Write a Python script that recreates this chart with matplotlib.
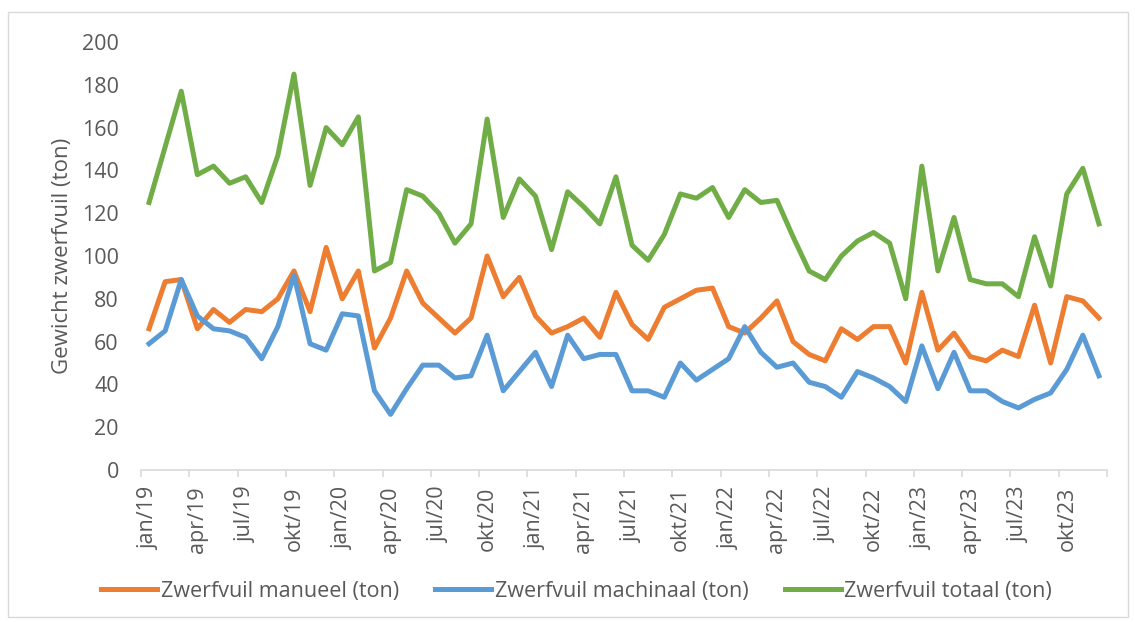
import matplotlib
matplotlib.use("Agg")
import matplotlib.pyplot as plt
from matplotlib.patches import Rectangle
import numpy as np

# months jan/19 .. dec/23
months = ["jan", "feb", "mrt", "apr", "mei", "jun", "jul", "aug", "sep", "okt", "nov", "dec"]
years = ["19", "20", "21", "22", "23"]
labels = [m + "/" + y for y in years for m in months]

manueel = [66, 88, 89, 66, 75, 69, 75, 74, 80, 93,
           74, 104, 80, 93, 57, 71, 93, 78, 71, 64,
           71, 100, 81, 90, 72, 64, 67, 71, 62, 83,
           68, 61, 76, 80, 84, 85, 67, 64, 71, 79,
           60, 54, 51, 66, 61, 67, 67, 50, 83, 56,
           64, 53, 51, 56, 53, 77, 50, 81, 79, 71]

machinaal = [59, 65, 89, 72, 66, 65, 62, 52, 67, 91,
             59, 56, 73, 72, 37, 26, 38, 49, 49, 43,
             44, 63, 37, 46, 55, 39, 63, 52, 54, 54,
             37, 37, 34, 50, 42, 47, 52, 67, 55, 48,
             50, 41, 39, 34, 46, 43, 39, 32, 58, 38,
             55, 37, 37, 32, 29, 33, 36, 47, 63, 44]

totaal = [125, 151, 177, 138, 142, 134, 137, 125, 147, 185,
          133, 160, 152, 165, 93, 97, 131, 128, 120, 106,
          115, 164, 118, 136, 128, 103, 130, 123, 115, 137,
          105, 98, 110, 129, 127, 132, 118, 131, 125, 126,
          109, 93, 89, 100, 107, 111, 106, 80, 142, 93,
          118, 89, 87, 87, 81, 109, 86, 129, 141, 115]

plt.rcParams['font.family'] = ['Open Sans', 'DejaVu Sans']
textcolor = '#595959'

fig = plt.figure(figsize=(11.35, 6.22), dpi=100)
ax = fig.add_axes([141 / 1135, 1 - 470 / 622, (1107 - 141) / 1135, (470 - 42) / 622])

x = np.arange(len(labels))
ax.plot(x, manueel, color='#ED7D31', lw=3.6, label='Zwerfvuil manueel (ton)', solid_joinstyle='round')
ax.plot(x, machinaal, color='#5B9BD5', lw=3.6, label='Zwerfvuil machinaal (ton)', solid_joinstyle='round')
ax.plot(x, totaal, color='#70AD47', lw=3.6, label='Zwerfvuil totaal (ton)', solid_joinstyle='round')

ax.set_xlim(-0.5, len(labels) - 0.5)
ax.set_ylim(0, 200)
ax.set_yticks(np.arange(0, 201, 20))
ax.tick_params(axis='y', length=0, pad=16, labelsize=15.5, labelcolor=textcolor)

# ticks between categories, labels on every third category
ax.set_xticks(np.arange(-0.5, len(labels), 3))
ax.set_xticklabels([])
ax.set_xticks(np.arange(0, len(labels), 3), minor=True)
ax.set_xticklabels(labels[::3], minor=True, rotation=90)
ax.tick_params(axis='x', which='major', length=5, color='#d9d9d9', width=1.2)
ax.tick_params(axis='x', which='minor', length=0, pad=12, labelsize=15.5, labelcolor=textcolor)

for s in ['top', 'right', 'left']:
    ax.spines[s].set_visible(False)
ax.spines['bottom'].set_color('#d9d9d9')
ax.spines['bottom'].set_linewidth(1.2)

ax.set_ylabel('Gewicht zwerfvuil (ton)', fontsize=16, color=textcolor, labelpad=6)

fig.legend(loc='center', bbox_to_anchor=(0.508, 1 - 591 / 622), ncol=3, frameon=False,
           fontsize=15.5, labelcolor=textcolor, handlelength=2.6, handletextpad=0.15,
           columnspacing=1.7)

fig.patches.append(Rectangle((8 / 1135, 1 - 617 / 622), 1120 / 1135, 605 / 622,
                             transform=fig.transFigure, fill=False, edgecolor='#d9d9d9', lw=1))

fig.savefig('out.png', dpi=100)
